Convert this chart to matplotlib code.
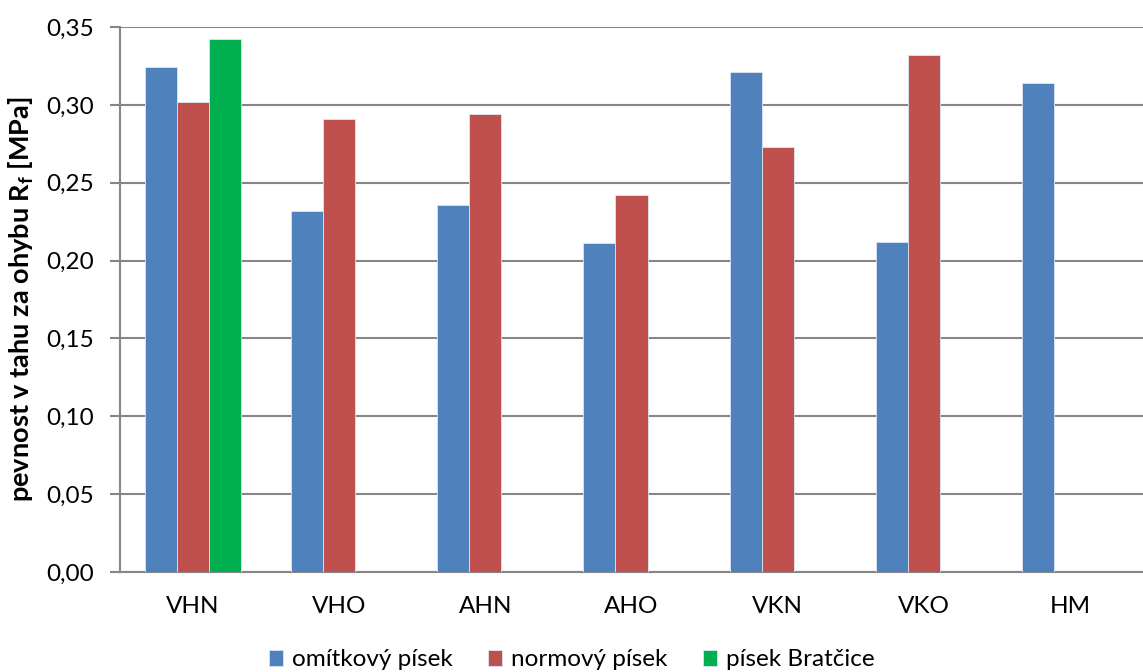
import matplotlib
matplotlib.use("Agg")
import matplotlib.pyplot as plt
from matplotlib.ticker import MultipleLocator, FuncFormatter
import numpy as np

categories = ["VHN", "VHO", "AHN", "AHO", "VKN", "VKO", "HM"]
omitkovy = [0.324, 0.232, 0.236, 0.211, 0.321, 0.212, 0.314]
normovy = [0.302, 0.291, 0.294, 0.242, 0.273, 0.332, None]
bratcice = [0.342, None, None, None, None, None, None]
series_names = ["omítkový písek", "normový písek", "písek Bratčice"]
colors = ["#4F81BD", "#C0504D", "#00B050"]

plt.rcParams["font.family"] = ["Lato", "DejaVu Sans"]
plt.rcParams["mathtext.fontset"] = "custom"
plt.rcParams["mathtext.rm"] = "Lato"
plt.rcParams["mathtext.bf"] = "Lato:bold"

fig = plt.figure(figsize=(11.43, 6.72), dpi=100)
ax = fig.add_axes([120 / 1143, 1 - 572 / 672, 1 - 120 / 1143, (572 - 27) / 672])

x = np.arange(len(categories))
w = 0.219
for i, (vals, name, c) in enumerate(zip([omitkovy, normovy, bratcice], series_names, colors)):
    xs = [xi + (i - 1) * w for xi, v in zip(x, vals) if v is not None]
    ys = [v for v in vals if v is not None]
    ax.bar(xs, ys, width=w, color=c, edgecolor="#dce6f2", linewidth=0.6, label=name, zorder=3)

ax.set_xlim(-0.5, len(categories) - 0.5)
ax.set_ylim(0, 0.35)
ax.yaxis.set_major_locator(MultipleLocator(0.05))
ax.yaxis.set_major_formatter(FuncFormatter(lambda v, p: f"{v:.2f}".replace(".", ",")))
ax.grid(axis="y", color="#868686", linewidth=1.5, zorder=0)
ax.set_axisbelow(True)

for s in ["top", "right"]:
    ax.spines[s].set_visible(False)
ax.spines["left"].set_color("#868686")
ax.spines["left"].set_linewidth(1.5)
ax.spines["bottom"].set_color("#868686")
ax.spines["bottom"].set_linewidth(1.5)

ax.set_xticks(x)
ax.set_xticklabels(categories)
ax.tick_params(axis="x", length=0, pad=17, labelsize=17.5)
ax.tick_params(axis="y", length=7, width=1.5, color="#868686", pad=12, labelsize=17.5)

ax.set_ylabel(r"pevnost v tahu za ohybu $\mathbf{R_f}$ [MPa]", fontsize=19.5,
              fontweight="bold")
ax.yaxis.set_label_coords(-84 / 1023, 0.5)

fig.legend(loc="center", bbox_to_anchor=(0.5, 1 - 660 / 672), ncol=3, frameon=False,
           fontsize=17.5, handlelength=0.6, handleheight=0.6, handletextpad=0.35,
           columnspacing=1.45)

fig.savefig("out.png", dpi=100)
